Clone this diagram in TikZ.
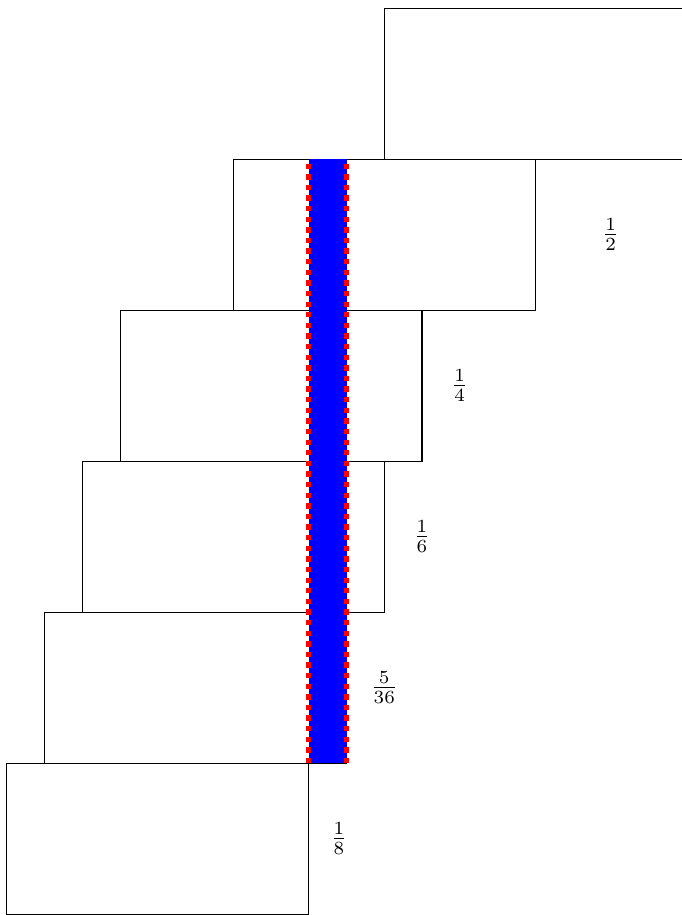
\documentclass[tikz,border=0pt]{standalone}
\usepackage{amsmath}
\usepackage{tikz}

\begin{document}
\begin{tikzpicture}[
  block/.style={draw, thin, minimum width=4cm, minimum height=2cm, inner sep=0pt, outer sep=0pt},
  frac/.style={font=\normalsize},
  strip/.style={fill=blue},
  stripedge/.style={draw=red, line width=2pt, dash pattern=on 2pt off 2pt},
]
\useasboundingbox (-0.09,-0.01) rectangle (8.94,12.11);
% Blocks, bottom to top
\node[block] (b6) at (2,1) {};
\node[block] (b5) at (2.5,3) {};
\node[block] (b4) at (3,5) {};
\node[block] (b3) at (3.5,7) {};
\node[block] (b2) at (5,9) {};
\node[block] (b1) at (7,11) {};
% Overhangs
\node[frac] (f2) at (8,9) {$\frac{1}{2}$};
\node[frac] (f3) at (6,7) {$\frac{1}{4}$};
\node[frac] (f4) at (5.5,5) {$\frac{1}{6}$};
\node[frac] (f5) at (5,3) {$\frac{5}{36}$};
\node[frac] (f6) at (4.4,1) {$\frac{1}{8}$};
% Strip
\coordinate (sa) at (4,2);
\coordinate (sb) at (4,10);
\coordinate (sc) at (4.5,2);
\coordinate (sd) at (4.5,10);
\fill[strip] (sa) rectangle (sd);
\draw[stripedge] (sa) -- (sb);
\draw[stripedge] (sc) -- (sd);
\end{tikzpicture}
\end{document}
